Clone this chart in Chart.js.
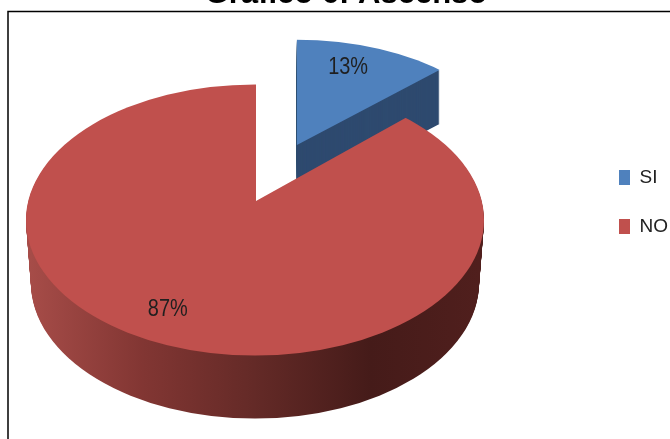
<!DOCTYPE html>
<html>
<head>
<meta charset="utf-8">
<style>
  html, body { margin: 0; padding: 0; background: #fff; overflow: hidden; }
  canvas { display: block; }
</style>
</head>
<body>
<canvas id="chart" width="670" height="439"></canvas>
<script src="https://cdn.jsdelivr.net/npm/chart.js@4"></script>
<script>
const categories = ['SI', 'NO'];
const values = [13, 87];
const topColors = ['#4f81bd', '#c0504d'];
const titleText = 'Gráfico 6: Ascenso';

// where the flattened pie sits on the page
const disc = { apexX: 256, apexY: 201, cx: 255, cy: 220, rx: 229, ry: 135.5, depth: 63 };
const explode = 103;       // SI pulled out, measured before flattening
const siShrinkX = 0.955;   // the pulled slice is drawn a bit smaller
const siShrinkY = 0.905;
const siDepth = 54;
const labelReachX = [0.59, 0.97];
const labelReachY = [0.69, 0.87];

// draw one slice flattened, apex and ellipse can differ so the slice is clipped to the ellipse
const drawSlice = (ctx, arc, apexX, apexY, ell, fill) => {
    const over = 1.3;
    const sx = ell.rx * over / arc.outerRadius;
    const sy = ell.ry * over / arc.outerRadius;
    const keep = arc.options;
    ctx.save();
    ctx.beginPath();
    ctx.ellipse(ell.cx, ell.cy, ell.rx, ell.ry, 0, 0, Math.PI * 2);
    ctx.clip();
    ctx.translate(apexX, apexY);
    ctx.scale(sx, sy);
    ctx.translate(-arc.x, -arc.y);
    const style = typeof fill === 'function' ? fill(ctx, arc, apexX, sx) : fill;
    arc.options = Object.assign({}, keep, { backgroundColor: style, borderWidth: 0 });
    const saved = arc.outerRadius;
    arc.outerRadius = saved * over;
    arc.draw(ctx);
    arc.outerRadius = saved;
    arc.options = keep;
    ctx.restore();
};

// side wall shading, left to right on screen
const wallFill = (ctx, arc, apexX, sx) => {
    const toUser = x => arc.x + (x - apexX) / sx;
    const g = ctx.createLinearGradient(toUser(30), 0, toUser(478), 0);
    g.addColorStop(0, '#a64c48');
    g.addColorStop(0.25, '#823633');
    g.addColorStop(0.5, '#642a27');
    g.addColorStop(0.76, '#451b19');
    g.addColorStop(1, '#501f1d');
    return g;
};

const pie3d = {
    id: 'pie3d',
    beforeDatasetDraw(chart) {
        const ctx = chart.ctx;
        const [si, no] = chart.getDatasetMeta(0).data;

        // SI: apex moved along the middle of the slice
        const mid = (si.startAngle + si.endAngle) / 2;
        const squash = disc.ry / disc.rx;
        const siX = disc.apexX + Math.cos(mid) * explode;
        const siY = disc.apexY + Math.sin(mid) * explode * squash;
        const siEll = {
            cx: siX + (disc.cx - disc.apexX) * siShrinkX,
            cy: siY + (disc.cy - disc.apexY) * siShrinkY,
            rx: disc.rx * siShrinkX,
            ry: disc.ry * siShrinkY
        };
        for (let d = siDepth; d > 0; d--) {
            drawSlice(ctx, si, siX, siY + d, { ...siEll, cy: siEll.cy + d }, '#2e4a6f');
        }
        drawSlice(ctx, si, siX, siY, siEll, topColors[0]);

        // NO: wall first, then the top face
        for (let d = disc.depth; d > 0; d--) {
            const ell = { cx: disc.cx, cy: disc.cy + d, rx: disc.rx - 5 * d / disc.depth, ry: disc.ry };
            drawSlice(ctx, no, disc.apexX, disc.apexY + d, ell, wallFill);
        }
        drawSlice(ctx, no, disc.apexX, disc.apexY, disc, topColors[1]);

        // percent labels, squeezed because the original font is a narrow one
        const total = values.reduce((a, b) => a + b, 0);
        const frames = [
            { x: siX, y: siY, rx: siEll.rx, ry: siEll.ry },
            { x: disc.apexX, y: disc.apexY, rx: disc.rx, ry: disc.ry }
        ];
        [si, no].forEach((arc, i) => {
            const a = (arc.startAngle + arc.endAngle) / 2;
            const f = frames[i];
            const text = Math.round(values[i] / total * 100) + '%';
            ctx.save();
            ctx.font = '24px "Liberation Sans", sans-serif';
            ctx.fillStyle = '#1f1f1f';
            ctx.textAlign = 'center';
            ctx.textBaseline = 'middle';
            ctx.translate(f.x + Math.cos(a) * f.rx * labelReachX[i], f.y + Math.sin(a) * f.ry * labelReachY[i]);
            ctx.scale(0.83, 1);
            ctx.fillText(text, 0, 0);
            ctx.restore();
        });
        return false;
    },
    beforeDraw(chart) {
        // frame runs off the right and bottom of the picture
        const ctx = chart.ctx;
        ctx.save();
        ctx.strokeStyle = '#000';
        ctx.lineWidth = 1.5;
        ctx.strokeRect(8, 11.5, 800, 600);
        ctx.restore();
    }
};

new Chart(document.getElementById('chart'), {
    type: 'pie',
    data: {
        labels: categories,
        datasets: [{ data: values, backgroundColor: topColors, borderWidth: 0 }]
    },
    plugins: [pie3d],
    options: {
        responsive: false,
        animation: false,
        layout: { padding: { left: 14, right: -8, top: 0, bottom: 35 } },
        plugins: {
            tooltip: { enabled: false },
            title: {
                display: true,
                text: titleText,
                color: '#000',
                font: { family: '"Liberation Sans", Arial, sans-serif', size: 31, weight: 'bold' },
                padding: { top: -24, bottom: 10 }
            },
            legend: {
                position: 'right',
                labels: {
                    boxWidth: 11,
                    boxHeight: 15,
                    padding: 30,
                    color: '#222',
                    font: { family: '"Liberation Sans", sans-serif', size: 19 }
                }
            }
        }
    }
});
</script>
</body>
</html>
